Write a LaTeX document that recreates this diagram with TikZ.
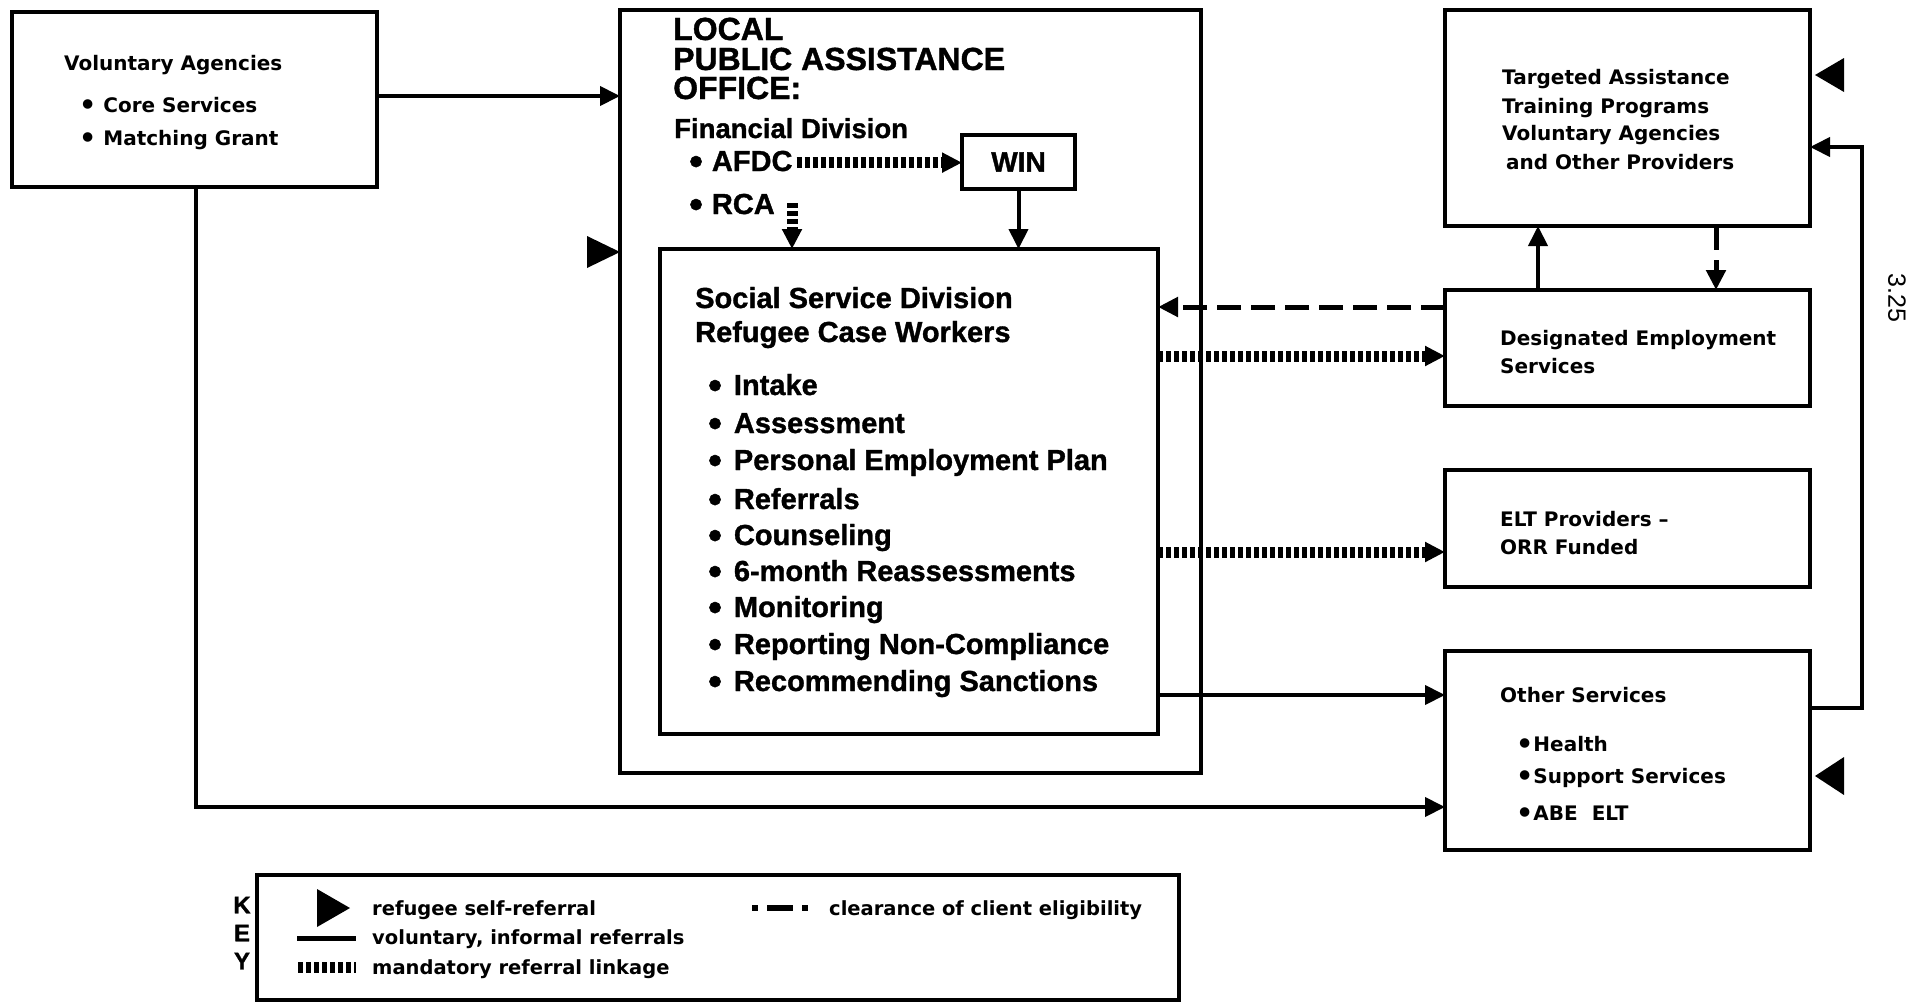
\documentclass[tikz,border=0pt]{standalone}
\usepackage{fontspec}
\setmainfont{Liberation Sans}[BoldFeatures={FakeBold=1.2}]
\newfontfamily\heavyfont{DejaVu Sans}
\usetikzlibrary{arrows.meta,calc}
% enlarged bullet used in the lists
\newcommand\dotmark{\raisebox{-0.12em}{\scalebox{1.35}{\textbullet}}}
\begin{document}
\begin{tikzpicture}[x=1pt,y=-1pt,
  box/.style={draw, line width=3.5pt, inner sep=0pt, outer sep=0pt, anchor=north west},
  head/.style={font=\bfseries\fontsize{32}{34}\selectfont, inner sep=0pt, anchor=base west},
  fin/.style={font=\bfseries\fontsize{27.5}{29}\selectfont, inner sep=0pt, anchor=base west},
  big/.style={font=\bfseries\fontsize{29}{31}\selectfont, inner sep=0pt, anchor=base west},
  small/.style={font=\heavyfont\bfseries\fontsize{20}{22}\selectfont, inner sep=0pt, anchor=base west},
  keyt/.style={font=\heavyfont\bfseries\fontsize{19.5}{21}\selectfont, inner sep=0pt, anchor=base west},
  arrowtip/.style={-{Triangle[length=20pt,width=19pt]}},
  voluntary/.style={line width=4pt, arrowtip},
  mandatory/.style={line width=11pt, dash pattern=on 5pt off 3pt, arrowtip},
  clearance/.style={line width=5pt, dash pattern=on 24pt off 10pt, arrowtip},
]
\fill[white] (0,0) rectangle (1925,1002);
\useasboundingbox (0,0) rectangle (1925,1002);

% ---- boxes
\node[box, minimum width=365pt, minimum height=175pt] (va) at (12,12) {};
\node[box, minimum width=581pt, minimum height=763pt] (lpao) at (620,10) {};
\node[box, minimum width=113pt, minimum height=54pt, font=\bfseries\fontsize{28}{30}\selectfont] (win) at (962,135) {WIN};
\node[box, minimum width=498pt, minimum height=485pt] (ssd) at (660,249) {};
\node[box, minimum width=365pt, minimum height=216pt] (tap) at (1445,10) {};
\node[box, minimum width=365pt, minimum height=116pt] (des) at (1445,290) {};
\node[box, minimum width=365pt, minimum height=117pt] (elt) at (1445,470) {};
\node[box, minimum width=365pt, minimum height=199pt] (oth) at (1445,651) {};
\node[box, minimum width=922pt, minimum height=125pt] (key) at (257,875) {};

% ---- voluntary agencies
\node[small] (va1) at (64,70) {Voluntary Agencies};
\node[small] (va2) at (79,112) {\dotmark\ Core Services};
\node[small] (va3) at (79,145) {\dotmark\ Matching Grant};

% ---- local public assistance office
\node[head] (l1) at (673,40) {LOCAL};
\node[head] (l2) at (673,70) {PUBLIC ASSISTANCE};
\node[head] (l3) at (673,99) {OFFICE:};
\node[fin] (fd) at (674,138) {Financial Division};
\node[big] (afdc) at (689,171) {\dotmark\hspace{9pt}AFDC};
\node[big] (rca) at (689,214) {\dotmark\hspace{9pt}RCA};
\coordinate (rcaout) at (792,203);

% ---- social service division
\node[big] (s1) at (695,308) {Social Service Division};
\node[big] (s2) at (695,342) {Refugee Case Workers};
\foreach \t/\y [count=\i] in {Intake/395, Assessment/433, Personal Employment Plan/470,
    Referrals/509, Counseling/545, 6-month Reassessments/581, Monitoring/617,
    Reporting Non-Compliance/654, Recommending Sanctions/691}
  \node[big] (item\i) at (708,\y) {\dotmark\hspace{12pt}\t};

% ---- right-hand providers
\node[small] (t1) at (1502,84) {Targeted Assistance};
\node[small] (t2) at (1502,113) {Training Programs};
\node[small] (t3) at (1502,140) {Voluntary Agencies};
\node[small] (t4) at (1506,169) {and Other Providers};
\node[small] (d1) at (1500,345) {Designated Employment};
\node[small] (d2) at (1500,373) {Services};
\node[small] (e1) at (1500,526) {ELT Providers –};
\node[small] (e2) at (1500,554) {ORR Funded};
\node[small] (o1) at (1500,702) {Other Services};
\node[small] (o2) at (1516,751) {\dotmark Health};
\node[small] (o3) at (1516,783) {\dotmark Support Services};
\node[small] (o4) at (1516,820) {\dotmark ABE\ \ ELT};

% ---- connectors
\draw[voluntary] (va.east |- 0,96) -- (lpao.west |- 0,96);
\draw[voluntary] (va.south -| 196,0) |- (oth.west |- 0,807);
\draw[mandatory] ([xshift=4pt]afdc.east) -- (win.west |- afdc.east);
\draw[mandatory] (rcaout) -- (rcaout |- ssd.north);
\draw[voluntary] (win.south) -- (win.south |- ssd.north);
\draw[clearance] (des.west |- 0,307) -- (ssd.east |- 0,307);
\draw[mandatory] (ssd.east |- 0,356) -- (des.west |- 0,356);
\draw[mandatory] (ssd.east |- 0,552) -- (elt.west |- 0,552);
\draw[voluntary] (ssd.east |- 0,695) -- (oth.west |- 0,695);
\draw[voluntary] (des.north -| 1538,0) -- (tap.south -| 1538,0);
\draw[clearance] (tap.south -| 1716,0) -- (des.north -| 1716,0);
\coordinate (ret) at (1862,147);
\draw[voluntary] (oth.east |- 0,708) -| (ret) -- (tap.east |- ret);

% ---- self-referral markers
\fill (lpao.west |- 0,252) -- ++(-33,-16) -- ++(0,32) -- cycle;
\fill (1815,75) -- ++(29,-17) -- ++(0,34) -- cycle;
\fill (1815,776) -- ++(29,-19) -- ++(0,38) -- cycle;

% ---- page number
\node[rotate=-90, font=\fontsize{25}{25}\selectfont] (pg) at (1897,298) {3.25};

% ---- key
\node[font=\bfseries\fontsize{24}{24}\selectfont] (kk) at (242,905) {K};
\node[font=\bfseries\fontsize{24}{24}\selectfont] (ke) at (242,933) {E};
\node[font=\bfseries\fontsize{24}{24}\selectfont] (ky) at (242,961) {Y};
\fill (350,908) -- ++(-33,-19) -- ++(0,38) -- cycle;
\node[keyt] (k1) at (372,915) {refugee self-referral};
\node[keyt] (k2) at (372,944) {voluntary, informal referrals};
\node[keyt] (k3) at (372,974) {mandatory referral linkage};
\node[keyt] (k4) at (829,915) {clearance of client eligibility};
\coordinate (cla) at (752,908); \coordinate (clb) at (808,908);
\coordinate (vla) at (297,938); \coordinate (vlb) at (356,938);
\coordinate (mda) at (298,967); \coordinate (mdb) at (356,967);
\draw[line width=6pt, dash pattern=on 6pt off 9pt on 26pt off 9pt on 6pt off 100pt] (cla) -- (clb);
\draw[line width=5pt] (vla) -- (vlb);
\draw[line width=11pt, dash pattern=on 5pt off 3pt] (mda) -- (mdb);
\end{tikzpicture}
\end{document}
